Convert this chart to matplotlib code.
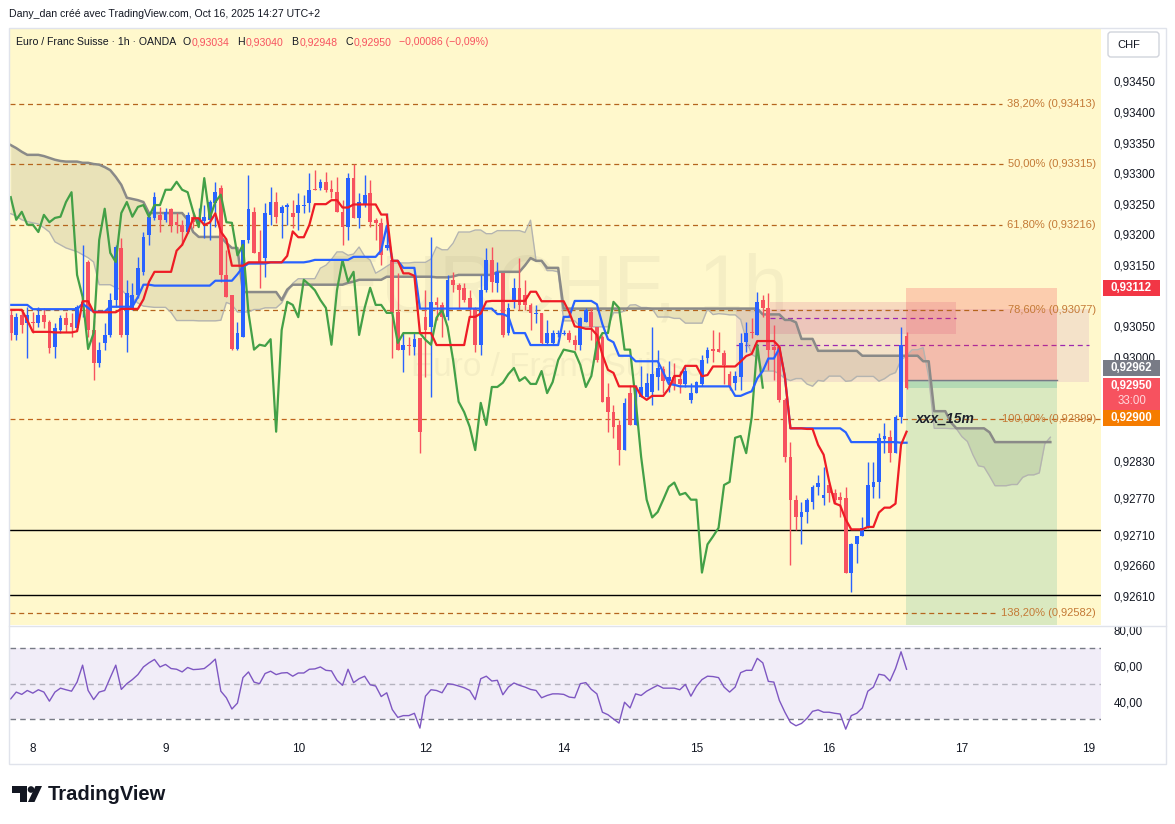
import numpy as np
import pandas as pd
import matplotlib
matplotlib.use("Agg")
import matplotlib.pyplot as plt
from matplotlib.patches import Rectangle, FancyBboxPatch, Polygon, Circle
from matplotlib.transforms import blended_transform_factory as blend

plt.rcParams['font.family'] = ['Liberation Sans', 'DejaVu Sans']

# ---------------- DATA (EUR/CHF 1h, OANDA) ----------------
opens = [
    0.93069,0.93036,0.93069,0.93056,0.93057,0.93056,0.93069,0.93057,0.93016,0.93044,
    0.93064,0.93056,0.93048,0.93082,0.93155,0.93044,0.92990,0.93023,0.93036,0.93093,
    0.93178,0.93036,0.93080,0.93101,0.93139,0.93199,0.93227,0.93232,0.93224,0.93242,
    0.93220,0.93216,0.93204,0.93229,0.93220,0.93222,0.93223,0.93251,0.93276,0.93134,
    0.93101,0.93013,0.93033,0.93191,0.93237,0.93171,0.93162,0.93232,0.93253,0.93235,
    0.93245,0.93235,0.93235,0.93246,0.93251,0.93274,0.93276,0.93286,0.93274,0.93269,
    0.93237,0.93212,0.93292,0.93227,0.93248,0.93268,0.93224,0.93219,0.93178,0.93158,
    0.93074,0.93012,0.93020,0.93016,0.93031,0.93065,0.93049,0.93090,0.93085,0.93065,
    0.93126,0.93118,0.93113,0.93096,0.93080,0.93020,0.93109,0.93158,0.93121,0.93137,
    0.93039,0.93090,0.93113,0.93101,0.93085,0.93070,0.93072,0.93023,0.93023,0.93038,
    0.93038,0.93039,0.93028,0.93020,0.93057,0.93074,0.93049,0.93033,0.92935,0.92910,
    0.92889,0.92848,0.92941,0.92889,0.92935,0.92935,0.92943,0.92967,0.92981,0.92961,
    0.92967,0.92964,0.92956,0.92930,0.92941,0.92956,0.92998,0.93013,0.93013,0.93007,
    0.92972,0.92958,0.92967,0.93025,0.93041,0.93036,0.93093,0.93080,0.93016,0.93016,
    0.92930,0.92837,0.92767,0.92738,0.92747,0.92764,0.92788,0.92770,0.92791,0.92778,
    0.92772,0.92770,0.92648,0.92694,0.92707,0.92721,0.92788,0.92796,0.92866,0.92870,
    0.92843,0.92902,0.93034]
highs = [
    0.93077,0.93072,0.93077,0.93082,0.93074,0.93082,0.93080,0.93061,0.93056,0.93069,
    0.93074,0.93072,0.93085,0.93183,0.93159,0.93061,0.93025,0.93056,0.93104,0.93183,
    0.93194,0.93126,0.93121,0.93163,0.93204,0.93237,0.93270,0.93245,0.93243,0.93243,
    0.93235,0.93224,0.93237,0.93237,0.93243,0.93248,0.93256,0.93286,0.93281,0.93174,
    0.93101,0.93057,0.93191,0.93297,0.93245,0.93207,0.93252,0.93278,0.93269,0.93248,
    0.93252,0.93256,0.93268,0.93265,0.93300,0.93305,0.93291,0.93302,0.93289,0.93294,
    0.93256,0.93300,0.93315,0.93268,0.93297,0.93289,0.93227,0.93227,0.93235,0.93163,
    0.93137,0.93039,0.93033,0.93041,0.93031,0.93109,0.93196,0.93098,0.93090,0.93134,
    0.93139,0.93121,0.93121,0.93109,0.93082,0.93134,0.93178,0.93180,0.93155,0.93137,
    0.93088,0.93129,0.93162,0.93126,0.93088,0.93085,0.93072,0.93061,0.93044,0.93044,
    0.93044,0.93044,0.93036,0.93065,0.93080,0.93080,0.93049,0.93036,0.92958,0.92922,
    0.92897,0.92933,0.92954,0.92954,0.92986,0.92974,0.93049,0.93012,0.92985,0.92994,
    0.92990,0.92977,0.92985,0.92958,0.92961,0.93003,0.93016,0.93044,0.93041,0.93012,
    0.92977,0.92977,0.93039,0.93057,0.93064,0.93106,0.93101,0.93104,0.93052,0.93020,
    0.92933,0.92861,0.92775,0.92764,0.92770,0.92791,0.92808,0.92821,0.92796,0.92784,
    0.92780,0.92787,0.92697,0.92707,0.92738,0.92829,0.92829,0.92876,0.92892,0.92881,
    0.92905,0.93049,0.93040]
lows = [
    0.93028,0.93028,0.93039,0.92998,0.93039,0.93049,0.93048,0.93007,0.92999,0.93039,
    0.93041,0.93033,0.93044,0.93065,0.93033,0.92963,0.92984,0.93012,0.93033,0.93082,
    0.93033,0.93008,0.93077,0.93096,0.93134,0.93183,0.93224,0.93204,0.93220,0.93204,
    0.93203,0.93183,0.93203,0.93211,0.93219,0.93194,0.93191,0.93212,0.93123,0.93098,
    0.93012,0.93012,0.93033,0.93186,0.93170,0.93113,0.93131,0.93216,0.93219,0.93194,
    0.93216,0.93211,0.93207,0.93235,0.93237,0.93273,0.93273,0.93269,0.93260,0.93237,
    0.93183,0.93191,0.93227,0.93211,0.93245,0.93212,0.93191,0.93150,0.93174,0.92999,
    0.93012,0.92976,0.93003,0.93003,0.92843,0.92968,0.92935,0.93061,0.93033,0.93061,
    0.93106,0.93080,0.93090,0.93065,0.93008,0.93003,0.93106,0.93106,0.93106,0.93033,
    0.93036,0.93080,0.93077,0.93077,0.93044,0.93056,0.93020,0.93020,0.93020,0.93033,
    0.93036,0.93025,0.93012,0.93012,0.93057,0.93028,0.92992,0.92927,0.92878,0.92868,
    0.92824,0.92848,0.92889,0.92889,0.92935,0.92935,0.92922,0.92946,0.92941,0.92943,
    0.92946,0.92941,0.92951,0.92925,0.92941,0.92953,0.92990,0.92992,0.93008,0.92956,
    0.92946,0.92946,0.92946,0.93008,0.93031,0.93036,0.93065,0.92979,0.92962,0.92927,
    0.92829,0.92661,0.92718,0.92694,0.92729,0.92751,0.92775,0.92759,0.92764,0.92762,
    0.92738,0.92648,0.92616,0.92664,0.92707,0.92721,0.92770,0.92770,0.92843,0.92829,
    0.92843,0.92892,0.92948]
closes = [
    0.93039,0.93065,0.93052,0.93069,0.93056,0.93069,0.93057,0.93015,0.93048,0.93064,
    0.93052,0.93049,0.93082,0.93090,0.93044,0.92990,0.93012,0.93036,0.93093,0.93180,
    0.93036,0.93104,0.93101,0.93145,0.93196,0.93229,0.93261,0.93224,0.93237,0.93216,
    0.93216,0.93204,0.93232,0.93220,0.93227,0.93229,0.93253,0.93269,0.93134,0.93098,
    0.93013,0.93039,0.93191,0.93242,0.93170,0.93155,0.93235,0.93253,0.93229,0.93245,
    0.93248,0.93229,0.93248,0.93248,0.93273,0.93273,0.93286,0.93273,0.93269,0.93237,
    0.93212,0.93292,0.93227,0.93253,0.93265,0.93220,0.93219,0.93166,0.93183,0.93072,
    0.93012,0.93020,0.93018,0.93029,0.92878,0.93044,0.93090,0.93085,0.93065,0.93126,
    0.93118,0.93109,0.93093,0.93080,0.93020,0.93109,0.93158,0.93123,0.93139,0.93036,
    0.93080,0.93113,0.93085,0.93085,0.93072,0.93072,0.93023,0.93039,0.93039,0.93039,
    0.93039,0.93028,0.93020,0.93064,0.93077,0.93049,0.92995,0.92927,0.92910,0.92886,
    0.92848,0.92925,0.92889,0.92951,0.92951,0.92958,0.92972,0.92982,0.92961,0.92967,
    0.92956,0.92956,0.92977,0.92941,0.92959,0.92995,0.93012,0.93010,0.93008,0.92987,
    0.92951,0.92969,0.93023,0.93039,0.93039,0.93090,0.93080,0.93012,0.93012,0.92930,
    0.92837,0.92767,0.92738,0.92747,0.92767,0.92788,0.92795,0.92775,0.92778,0.92767,
    0.92767,0.92648,0.92694,0.92707,0.92721,0.92791,0.92796,0.92868,0.92871,0.92843,
    0.92902,0.93020,0.92950]
rsi = [
    41.5,45.3,44.0,46.2,44.7,46.6,45.3,40.2,45.3,47.5,
    46.6,45.8,50.9,60.4,46.2,41.1,45.3,46.2,53.4,60.4,
    46.8,50.0,52.3,55.1,59.4,61.7,63.6,59.4,60.8,58.5,
    58.1,56.6,59.1,57.9,58.1,58.5,60.9,63.8,45.8,42.1,
    35.8,39.1,53.4,56.6,50.9,50.0,55.7,57.0,55.1,56.0,
    56.2,54.2,56.0,56.0,58.1,58.3,59.4,57.5,57.2,51.9,
    49.1,58.1,50.6,52.8,54.2,49.4,48.7,42.8,44.9,35.5,
    31.1,32.1,32.1,33.4,25.1,43.0,46.6,46.2,44.9,50.0,
    49.6,48.7,47.7,46.2,41.1,52.8,54.2,51.5,51.9,43.8,
    48.1,50.4,49.1,48.1,46.8,46.2,42.1,43.4,44.3,44.3,
    44.0,42.5,42.1,50.0,50.6,46.8,44.3,34.0,32.6,30.2,
    27.9,39.6,36.4,44.3,43.4,45.8,47.5,49.1,47.5,47.5,
    47.5,46.6,49.6,43.0,48.5,52.3,54.2,54.0,53.4,48.1,
    45.3,48.1,56.2,57.5,57.5,64.2,61.7,51.3,50.9,40.6,
    34.0,28.3,26.4,27.7,30.6,34.5,35.3,34.0,34.0,33.4,
    33.0,24.5,32.1,33.4,36.4,45.8,48.1,55.3,54.7,51.5,
    58.5,67.9,58.1]
# Ichimoku values for the bars whose look-back lies before the visible range
tenkan_head = [0.93077,0.93077,0.93077,0.93060,0.93041,0.93041,0.93041,0.93041]
kijun_head = [0.93085,0.93085,0.93085,0.93085,0.93078,0.93078,0.93078,0.93078,0.93078,
              0.93078,0.93078,0.93078,0.93078,0.93087,0.93080,0.93074,0.93074,0.93074,
              0.93082,0.93082,0.93082,0.93082,0.93082,0.93098,0.93118,0.93118]
span_a_head = [0.93234,0.93230,0.93224,0.93221,0.93219,0.93217,0.93211,0.93204,0.93188,0.93183,
               0.93178,0.93175,0.93172,0.93167,0.93162,0.93155,0.93118,0.93118,0.93118,0.93113,
               0.93110,0.93101,0.93096,0.93088,0.93083,0.93082]
span_b_head = [
    0.93346,0.93341,0.93335,0.93330,0.93330,0.93330,0.93328,0.93325,0.93322,0.93320,
    0.93319,0.93319,0.93319,0.93317,0.93317,0.93315,0.93314,0.93310,0.93305,0.93294,
    0.93281,0.93260,0.93258,0.93256,0.93253,0.93235,0.93235,0.93235,0.93235,0.93235,
    0.93235,0.93235,0.93224,0.93204,0.93196,0.93196,0.93196,0.93196,0.93196,0.93186,
    0.93178,0.93178,0.93106,0.93106,0.93106,0.93106,0.93106,0.93106,0.93106,0.93093,
    0.93110,0.93118,0.93118,0.93118,0.93118,0.93118,0.93118,0.93118,0.93118,0.93118,
    0.93118,0.93121,0.93123,0.93126,0.93126,0.93126,0.93126,0.93126,0.93131,0.93131,
    0.93131,0.93131,0.93131,0.93131,0.93131,0.93131,0.93131]
fib_pcts = [38.2, 50.0, 61.8, 78.6, 100.0, 138.2]
fib_levels = [0.93413, 0.93315, 0.93216, 0.93077, 0.92899, 0.92582]
support_levels = [0.92717, 0.92611]
entry_price, stop_price, target_price = 0.92962, 0.93112, 0.92500
zone_a = (0.93038, 0.93090)
zone_b = (0.92959, 0.93079)
alert_price = 0.92900
price_ticks = [0.93450,0.93400,0.93350,0.93300,0.93250,0.93200,0.93150,0.93050,0.93000,
               0.92830,0.92770,0.92710,0.92660,0.92610]
day_labels = ['8','9','10','12','14','15','16','17','19']
day_pos = [4, 28, 52, 75, 100, 124, 148, 172, 195]
header = "Dany_dan créé avec TradingView.com, Oct 16, 2025 14:27 UTC+2"
legend_parts = [("Euro / Franc Suisse · 1h · OANDA", '#131722', 5),
                ("O", '#131722', 0), ("0,93034", '#f7525f', 7),
                ("H", '#131722', 0), ("0,93040", '#f7525f', 7),
                ("B", '#131722', 0), ("0,92948", '#f7525f', 7),
                ("C", '#131722', 0), ("0,92950", '#f7525f', 6),
                ("−0,00086 (−0,09%)", '#f7525f', 0)]

# ---------------- FIGURE ----------------
W, H = 1175, 824
fig = plt.figure(figsize=(W/100, H/100), dpi=100)
fig.patch.set_facecolor('white')

def fr(x0, y0, x1, y1):
    return [x0/W, 1-y1/H, (x1-x0)/W, (y1-y0)/H]

ax = fig.add_axes(fr(10, 28, 1101, 625))
rax = fig.add_axes(fr(10, 627, 1101, 737))
XL = (-0.127, 197.16)
ax.set_xlim(*XL); rax.set_xlim(*XL)
ax.set_ylim(0.925624, 0.935371)
rax.set_ylim(20.1, 81.8)
ax.set_facecolor('#fff8cc')
rax.set_facecolor('white')
for a in (ax, rax):
    for s in a.spines.values():
        s.set_visible(False)

UP, DN = '#2962ff', '#f7525f'
o = np.array(opens); h = np.array(highs); l = np.array(lows); c = np.array(closes)
x = np.arange(len(c))

# Ichimoku
hs, ls = pd.Series(h), pd.Series(l)
tenkan = ((hs.rolling(9).max() + ls.rolling(9).min()) / 2).to_numpy()
tenkan[:len(tenkan_head)] = tenkan_head
kijun = ((hs.rolling(26).max() + ls.rolling(26).min()) / 2).to_numpy()
kijun[:len(kijun_head)] = kijun_head
span_a = np.concatenate([span_a_head, (tenkan + kijun) / 2])
span_b_calc = ((hs.rolling(52).max() + ls.rolling(52).min()) / 2).to_numpy()
span_b = np.concatenate([span_b_head, span_b_calc[51:]])
xc = np.arange(len(span_a))

ax.fill_between(xc, span_a, span_b, color='#7a7550', alpha=0.16, lw=0, zorder=1)
ax.plot(xc, span_a, color='#b4b4b0', lw=1.0, zorder=2.1)
ax.plot(xc, span_b, color='#8a8a88', lw=1.8, zorder=2.1)

# watermark
ax.text(0.502, 0.561, 'EURCHF, 1h', transform=ax.transAxes, ha='center', va='center',
        fontsize=58, color='black', alpha=0.04, zorder=0.5)
ax.text(0.502, 0.432, 'Euro / Franc Suisse', transform=ax.transAxes, ha='center', va='center',
        fontsize=24, color='black', alpha=0.04, zorder=0.5)

# zones
bt = blend(ax.transAxes, ax.transData)
ax.add_patch(Rectangle((131.2, zone_b[0]), 195.0-131.2, zone_b[1]-zone_b[0],
                       fc='#9c27b0', alpha=0.10, lw=0, zorder=1.5))
ax.plot([131.2, 195.0], [sum(zone_b)/2]*2, color='#9c27b0', lw=0.9, ls=(0, (4, 3)), zorder=1.55)
ax.add_patch(Rectangle((137.3, zone_a[0]), 170.9-137.3, zone_a[1]-zone_a[0],
                       fc='#d0417a', alpha=0.17, lw=0, zorder=1.5))
ax.plot([137.3, 170.9], [sum(zone_a)/2]*2, color='#9c27b0', lw=0.9, ls=(0, (4, 3)), zorder=1.55)

# position tool (short)
px0, px1 = 161.9, 189.2
ax.add_patch(Rectangle((px0, entry_price), px1-px0, stop_price-entry_price,
                       fc='#f23645', alpha=0.22, lw=0, zorder=1.6))
ax.add_patch(Rectangle((px0, target_price), px1-px0, entry_price-target_price,
                       fc='#089981', alpha=0.15, lw=0, zorder=1.6))
ax.add_patch(Rectangle((px0, c[-1]), px1-px0, entry_price-c[-1],
                       fc='#089981', alpha=0.18, lw=0, zorder=1.61))
ax.plot([px0, px1], [entry_price]*2, color='#787b86', lw=1, zorder=1.7)

# fib labels (lines drawn after measuring labels)
fib_texts = []
for p, v in zip(fib_pcts, fib_levels):
    lab = (f"{p:.2f}%".replace('.', ',') + f" ({v:.5f})".replace('.', ','))
    t = ax.text(0.9954, v, lab, transform=bt, ha='right', va='center', fontsize=8,
                color='#c47a36', zorder=2.2)
    fib_texts.append((t, v))
for v in support_levels:
    ax.axhline(v, color='black', lw=1, zorder=2)

# candles
col = np.where(c >= o, UP, DN)
ax.vlines(x, l, h, colors=col, lw=1, zorder=3)
body_lo = np.minimum(o, c)
body_h = np.maximum(np.abs(c - o), 0.000012)
ax.bar(x, body_h, bottom=body_lo, width=0.68, color=col, lw=0, zorder=3)

# lines
ax.plot(x[:-26], c[26:], color='#43a047', lw=1.6, zorder=4)
ax.plot(x, kijun, color='#2962ff', lw=1.6, zorder=4)
ax.plot(x, tenkan, color='#ee1c25', lw=1.6, zorder=4.1)

ax.text(163.6, fib_levels[4], 'xxx_15m', ha='left', va='center', fontsize=10,
        style='italic', fontweight='bold', color='#1e222d', zorder=5)

# axes ticks
ax.set_xticks([])
ax.yaxis.tick_right()
ax.set_yticks(price_ticks)
ax.set_yticklabels([f"{v:.5f}".replace('.', ',') for v in price_ticks])
ax.tick_params(axis='y', length=0, pad=9, labelsize=8.3, labelcolor='#131722')

# price tags
PX = 0.000016326
def tag(price, text, bg, dy_px=0.0, hpx=16, sub=None):
    yc = price + dy_px * PX
    hh = hpx * PX
    ax.add_patch(Rectangle((1.0018, yc - hh/2), 0.0523, hh, transform=bt, fc=bg, ec='none',
                           clip_on=False, zorder=6))
    if sub is None:
        ax.text(1.0280, yc, text, transform=bt, ha='center', va='center', fontsize=8.3,
                color='white', fontweight='bold', clip_on=False, zorder=7)
    else:
        ax.text(1.0280, yc + 8*PX, text, transform=bt, ha='center', va='center', fontsize=8.3,
                color='white', fontweight='bold', clip_on=False, zorder=7)
        ax.text(1.0280, yc - 7*PX, sub, transform=bt, ha='center', va='center', fontsize=8.3,
                color='#ffd6da', clip_on=False, zorder=7)

tag(stop_price, '0,93112', '#f23645')
tag(entry_price, '0,92962', '#787b86', dy_px=12)
tag(c[-1], '0,92950', '#f7525f', dy_px=-6.5, hpx=32, sub='33:00')
tag(alert_price, '0,92900', '#f57c00')

# RSI panel
rax.axhspan(30, 70, color='#7e57c2', alpha=0.10, lw=0)
for lvl, al in ((70, 1.0), (50, 0.5), (30, 1.0)):
    rax.axhline(lvl, color='#787b86', lw=1, ls=(0, (4, 3)), alpha=al)
rax.plot(x, rsi, color='#7e57c2', lw=1)
rax.yaxis.tick_right()
rax.set_yticks([80, 60, 40])
rax.set_yticklabels(['80,00', '60,00', '40,00'])
rax.tick_params(axis='y', length=0, pad=9, labelsize=8.3, labelcolor='#131722')
rax.set_xticks(day_pos)
rax.set_xticklabels(day_labels)
rax.tick_params(axis='x', length=0, pad=4, labelsize=8.5, labelcolor='#131722')

# decorations (pixel space)
deco = fig.add_axes([0, 0, 1, 1], zorder=10)
deco.set_xlim(0, W); deco.set_ylim(H, 0); deco.axis('off'); deco.patch.set_alpha(0)
deco.add_patch(Rectangle((8.5, 27.5), 1157, 736, fill=False, ec='#e0e3eb', lw=1))
deco.plot([9, 1166], [626, 626], color='#e0e3eb', lw=1)
deco.text(9, 14, header, fontsize=7.6, color='#131722', va='center')
deco.add_patch(FancyBboxPatch((1108, 32), 51, 25, boxstyle='round,pad=0,rounding_size=3',
                              fc='white', ec='#d1d4dc', lw=1))
deco.text(1117, 44.5, 'CHF', fontsize=8, color='#131722', va='center')
# TradingView logo
deco.add_patch(Polygon([(12, 786), (27, 786), (27, 802), (20, 802), (20, 793), (12, 793)],
                       closed=True, fc='#131722', ec='none'))
deco.add_patch(Circle((31.0, 789.5), 3.3, fc='#131722', ec='none'))
deco.add_patch(Polygon([(28, 802), (35.5, 786), (42, 786), (34.5, 802)], closed=True,
                       fc='#131722', ec='none'))
deco.text(48, 794, 'TradingView', fontsize=14.5, fontweight='bold', color='#131722', va='center')

# measure texts to place the legend pieces and to end fib lines before their labels
fig.canvas.draw()
rend = fig.canvas.get_renderer()
xp = 16.0
for t, cc, gap in legend_parts:
    tt = deco.text(xp, 42, t, fontsize=7.6, color=cc, va='center')
    bb = tt.get_window_extent(rend)
    xp += bb.width + gap + 1
inv = ax.transData.inverted()
for (t, v), p in zip(fib_texts, fib_pcts):
    if p == 100.0:
        # this level coincides with the alert line, which crosses the whole pane
        ax.axhline(v, color='#c0651d', lw=0.9, ls=(0, (4, 3)), zorder=2)
        continue
    bb = t.get_window_extent(rend)
    xend = inv.transform((bb.x0 - 5, 0))[0]
    ax.plot([XL[0], xend], [v, v], color='#b5651d', lw=0.9, ls=(0, (4, 3)), zorder=2)

fig.savefig('out.png', dpi=100, facecolor='white')
